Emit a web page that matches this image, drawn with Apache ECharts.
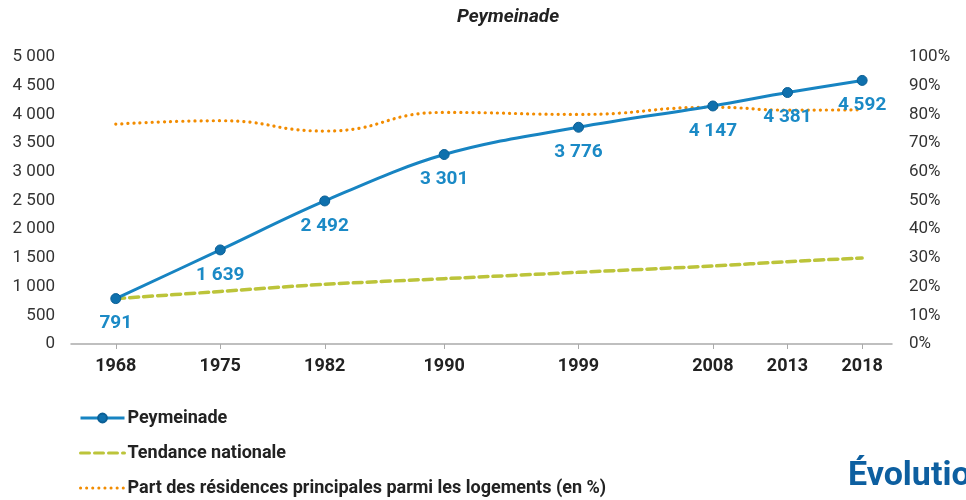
<!DOCTYPE html>
<html>
<head>
<meta charset="utf-8">
<script src="https://cdn.jsdelivr.net/npm/echarts@6/dist/echarts.min.js"></script>
<style>
  html, body { margin: 0; padding: 0; background: #fff; }
  #chart-container { width: 966px; height: 500px; }
</style>
</head>
<body>
<div id="chart-container"></div>
<script>
const years = [1968, 1975, 1982, 1990, 1999, 2008, 2013, 2018];
const population = [791, 1639, 2492, 3301, 3776, 4147, 4381, 4592];
const tendance = [791, 915, 1040, 1138, 1249, 1359, 1434, 1498];
const partResidences = [76.6, 77.8, 74.2, 80.7, 80.0, 82.5, 81.5, 81.6];

const fmt = (v) => String(v).replace(/\B(?=(\d{3})+(?!\d))/g, " ");
const pairs = (arr) => years.map((y, i) => [y, arr[i]]);

const option = {
  animation: false,
  textStyle: { fontFamily: "Roboto" },
  title: {
    text: "Peymeinade",
    left: 503,
    top: 3,
    textAlign: "center",
    textStyle: { fontSize: 19, fontWeight: "bold", fontStyle: "italic", color: "#222" },
  },
  grid: { left: 71, right: 74, top: 57, bottom: 156 },
  legend: {
    orient: "vertical",
    left: 74,
    top: 403,
    height: 97,
    itemWidth: 44,
    itemHeight: 11,
    itemGap: 15,
    lineStyle: { width: 3 },
    textStyle: { fontSize: 18, fontWeight: "bold", color: "#222", lineHeight: 20, padding: [0, 0, 0, -2] },
    data: [
      { name: "Peymeinade" },
      { name: "Tendance nationale", itemStyle: { opacity: 0 } },
      { name: "Part des résidences principales parmi les logements (en %)", itemStyle: { opacity: 0 } },
    ],
  },
  graphic: [
    {
      type: "text",
      left: 848,
      top: 459,
      style: { text: "Évolution", fontSize: 34, fontWeight: "bold", fill: "#0d5fa0", fontFamily: "Roboto" },
    },
  ],
  xAxis: {
    type: "value",
    min: 1965,
    max: 2020,
    splitLine: { show: false },
    axisLine: { show: true, lineStyle: { color: "#aaa", width: 1.5 } },
    axisTick: { show: true, customValues: years, length: 5, lineStyle: { color: "#aaa" } },
    axisLabel: {
      customValues: years,
      margin: 13,
      fontSize: 18,
      fontWeight: "bold",
      color: "#222",
      formatter: (v) => String(v),
    },
  },
  yAxis: [
    {
      type: "value",
      min: 0,
      max: 5000,
      interval: 500,
      splitLine: { show: false },
      axisLine: { show: false },
      axisTick: { show: false },
      axisLabel: { margin: 16, fontSize: 17, color: "#333", formatter: (v) => fmt(v) },
    },
    {
      type: "value",
      min: 0,
      max: 100,
      interval: 10,
      splitLine: { show: false },
      axisLine: { show: false },
      axisTick: { show: false },
      axisLabel: { margin: 17, fontSize: 17, color: "#333", formatter: (v) => v + "%" },
    },
  ],
  series: [
    {
      name: "Part des résidences principales parmi les logements (en %)",
      type: "line",
      yAxisIndex: 1,
      smooth: 0.5,
      symbol: "none",
      data: pairs(partResidences),
      lineStyle: { color: "#f28c00", width: 3.2, type: [0.1, 6], cap: "round" },
      itemStyle: { color: "#f28c00" },
      z: 2,
    },
    {
      name: "Tendance nationale",
      type: "line",
      smooth: 0.3,
      symbol: "none",
      data: pairs(tendance),
      lineStyle: { color: "#bcc43a", width: 3.5, type: [9, 5], cap: "round" },
      itemStyle: { color: "#bcc43a" },
      z: 3,
    },
    {
      name: "Peymeinade",
      type: "line",
      smooth: 0.35,
      symbol: "circle",
      symbolSize: 10,
      data: pairs(population),
      lineStyle: { color: "#1784c2", width: 3 },
      itemStyle: { color: "#0f70ad", borderColor: "#0b5f95", borderWidth: 1 },
      label: {
        show: true,
        position: "bottom",
        distance: 10,
        fontSize: 19,
        fontWeight: "bold",
        color: "#1b8ac6",
        formatter: (p) => fmt(p.value[1]),
      },
      z: 4,
    },
  ],
};

const chart = echarts.init(document.getElementById("chart-container"), null, { renderer: "canvas" });
chart.setOption(option);
window.addEventListener("resize", () => chart.resize());
</script>
</body>
</html>
